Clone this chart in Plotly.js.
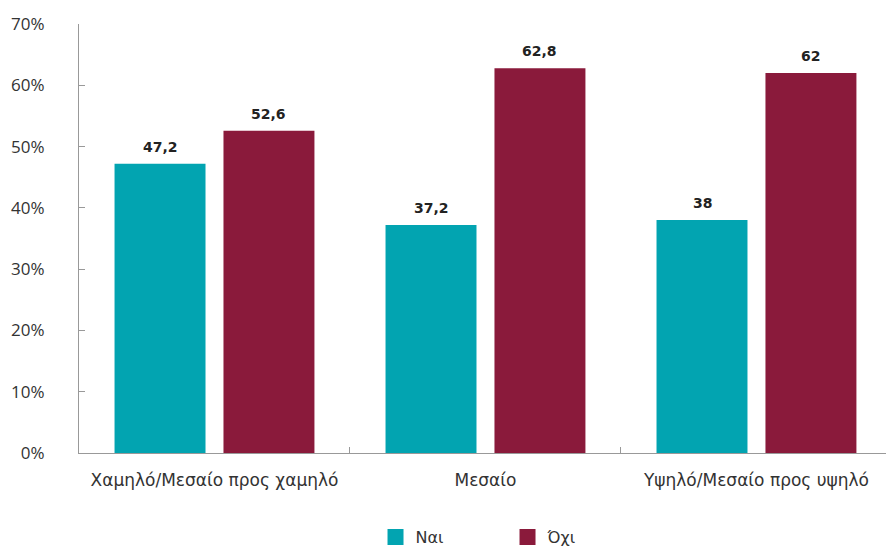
<!DOCTYPE html>
<html>
<head>
<meta charset="utf-8">
<script src="https://cdn.plot.ly/plotly-3.0.1.min.js"></script>
<style>html,body{margin:0;padding:0;background:#fff;}#chart{width:886px;height:547px;}</style>
</head>
<body>
<div id="chart"></div>
<script>
var categories = ["Χαμηλό/Μεσαίο προς χαμηλό", "Μεσαίο", "Υψηλό/Μεσαίο προς υψηλό"];
var seriesNames = ["Ναι", "Όχι"];
var yesValues = [47.2, 37.2, 38];
var noValues = [52.6, 62.8, 62];
var yTickVals = [0, 10, 20, 30, 40, 50, 60, 70];
var yTickText = ["0%", "10%", "20%", "30%", "40%", "50%", "60%", "70%"];

var colors = ["#02A4B1", "#8A1A3B"];
var font = "Open Sans, Noto Sans, sans-serif";
var wideFont = "DejaVu Sans, Open Sans, sans-serif";

function fmt(v) { return String(v).replace(".", ","); }

function barTrace(name, vals, color) {
  return {
    type: "bar", name: name, x: categories, y: vals,
    marker: {color: color},
    showlegend: false,
    hoverinfo: "skip"
  };
}
function legendTrace(name, color) {
  return {
    type: "scatter", mode: "markers", name: name, x: [null], y: [null],
    marker: {symbol: "square", size: 18, color: color},
    showlegend: true
  };
}

var data = [
  barTrace(seriesNames[0], yesValues, colors[0]),
  barTrace(seriesNames[1], noValues, colors[1]),
  legendTrace(seriesNames[0], colors[0]),
  legendTrace(seriesNames[1], colors[1])
];

// value labels above bars
var plotW = 807, xSpan = 2.978, bargap = 0.196;
var catPx = plotW / xSpan;
var slotPx = catPx * (1 - bargap) / 2;
var annotations = [];
[yesValues, noValues].forEach(function(vals, s) {
  vals.forEach(function(v, i) {
    annotations.push({
      x: categories[i], y: v, xref: "x", yref: "y",
      text: "<b>" + fmt(v) + "</b>", showarrow: false,
      xshift: (s === 0 ? -1 : 1) * slotPx / 2,
      yanchor: "bottom", yshift: 7,
      font: {family: wideFont, size: 14, color: "#222"}
    });
  });
});

var layout = {
  width: 886, height: 547,
  margin: {l: 79, r: 0, t: 24, b: 94},
  paper_bgcolor: "#fff", plot_bgcolor: "#fff",
  font: {family: font, size: 16, color: "#333"},
  barmode: "group",
  bargap: bargap,
  bargroupgap: 0.165,
  annotations: annotations,
  xaxis: {
    type: "category",
    range: [-0.5, 2.478],
    showline: true, linecolor: "#999", linewidth: 1,
    ticks: "inside", tickson: "boundaries", ticklen: 6, tickcolor: "#999",
    showgrid: false, zeroline: false,
    tickfont: {family: wideFont, size: 17, color: "#333"},
    ticklabelstandoff: 12
  },
  yaxis: {
    range: [0, 70],
    tickvals: yTickVals, ticktext: yTickText,
    showline: true, linecolor: "#999", linewidth: 1,
    ticks: "inside", ticklen: 6, tickcolor: "#999",
    showgrid: false, zeroline: false,
    tickfont: {family: font, size: 17, color: "#333"},
    ticklabelstandoff: 30
  },
  legend: {
    orientation: "h", x: 0.531, xanchor: "center",
    yref: "container", y: 0.018, yanchor: "middle",
    font: {family: wideFont, size: 16, color: "#333"},
    itemwidth: 30, entrywidth: 87
  },
  separators: ",."
};

Plotly.newPlot("chart", data, layout, {displayModeBar: false, staticPlot: true});
</script>
</body>
</html>
